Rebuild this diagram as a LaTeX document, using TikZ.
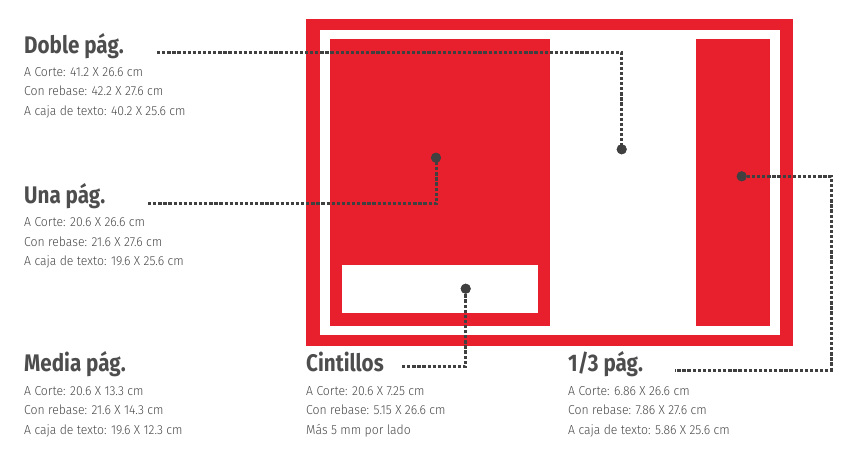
\documentclass[tikz,border=0pt]{standalone}
\usepackage{fontspec}
\setmainfont{Fira Sans}
\newfontfamily\ttlfont[FakeStretch=0.86]{Fira Sans}
\newfontfamily\bodyfont[FakeStretch=0.94]{Fira Sans Light}
\definecolor{pagered}{HTML}{E8202E}
\definecolor{ink}{HTML}{404040}
\definecolor{ttlgray}{HTML}{4D4D4D}
\definecolor{bodygray}{HTML}{474747}
\begin{document}
\begin{tikzpicture}[x=1pt,y=-1pt,
  ttl/.style={anchor=base west,inner sep=0pt,text=ttlgray,font={\ttlfont\bfseries\fontsize{24}{26}\selectfont}},
  body/.style={anchor=base west,inner sep=0pt,text=bodygray,align=left,font={\bodyfont\fontsize{13}{19.5}\selectfont}},
  leader/.style={draw=ink,line width=3pt,dash pattern=on 3.3pt off 1.8pt},
  pin/.style={circle,fill=ink,inner sep=0pt,minimum size=10pt}]
\useasboundingbox (0,0) rectangle (856,451);
% sheets
\fill[pagered] (306,19) rectangle (793,346);
\fill[white] (320,30) rectangle (780,335);
\fill[pagered] (330,39) rectangle (550,326);
\fill[white] (342,265) rectangle (538,313);
\fill[pagered] (696,39) rectangle (770,326);
% titles (body anchor = baseline of last line)
\node[ttl] (doble) at (24,53) {Doble pág.};
\node[body] (dobleb) at (24,115) {A Corte: 41.2 X 26.6 cm\\Con rebase: 42.2 X 27.6 cm\\A caja de texto: 40.2 X 25.6 cm};
\node[ttl] (una) at (24,203) {Una pág.};
\node[body] (unab) at (24,265.5) {A Corte: 20.6 X 26.6 cm\\Con rebase: 21.6 X 27.6 cm\\A caja de texto: 19.6 X 25.6 cm};
\node[ttl] (media) at (24,371) {Media pág.};
\node[body] (mediab) at (24,434) {A Corte: 20.6 X 13.3 cm\\Con rebase: 21.6 X 14.3 cm\\A caja de texto: 19.6 X 12.3 cm};
\node[ttl] (cint) at (306,371) {Cintillos};
\node[body] (cintb) at (306,434) {A Corte: 20.6 X 7.25 cm\\Con rebase: 5.15 X 26.6 cm\\Más 5 mm por lado};
\node[ttl] (tercio) at (568,371) {1/3 pág.};
\node[body] (terciob) at (568,434) {A Corte: 6.86 X 26.6 cm\\Con rebase: 7.86 X 27.6 cm\\A caja de texto: 5.86 X 25.6 cm};
% pins
\node[pin] (pd) at (621.7,149.3) {};
\node[pin] (pu) at (436,157.7) {};
\node[pin] (pc) at (465.7,288.7) {};
\node[pin] (pt) at (741.7,176.3) {};
% leader ends
\coordinate (ed) at (157,52);
\coordinate (eu) at (148,203.7);
\coordinate (ec) at (402,366.5);
\coordinate (et) at (675,370);
\coordinate (ct) at (831,176.3);
% leaders
\draw[leader] (ed) -| (pd.center);
\draw[leader] (eu) -| (pu.center);
\draw[leader] (ec) -| (pc.center);
\draw[leader] (pt.center) -- (ct) |- (et);
\node[pin] at (pd) {};
\node[pin] at (pu) {};
\node[pin] at (pc) {};
\node[pin] at (pt) {};
\end{tikzpicture}
\end{document}
